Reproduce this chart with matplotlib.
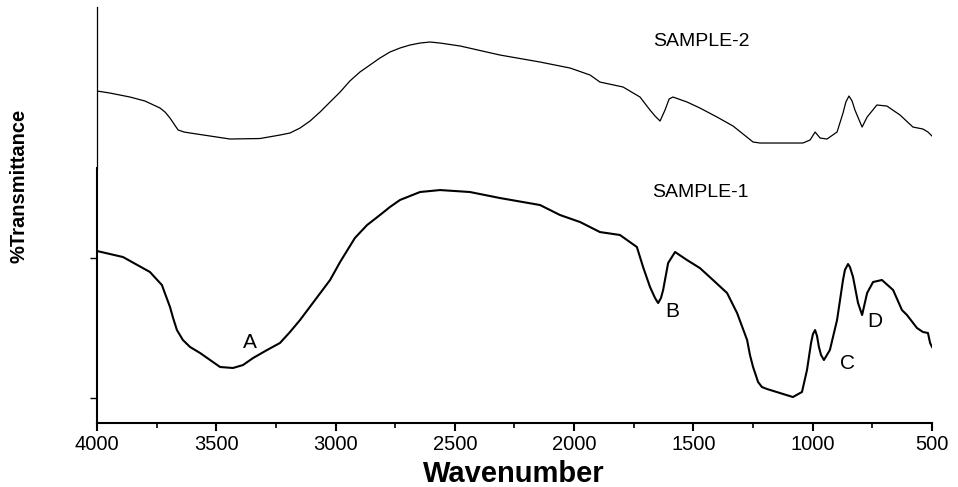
import matplotlib
matplotlib.use("Agg")
import matplotlib.pyplot as plt
from matplotlib.ticker import MultipleLocator

plt.rcParams['font.family'] = ['Liberation Sans', 'DejaVu Sans']

# FTIR spectrum of sample 2 (upper trace)
wn_s2 = [4000, 3946, 3862, 3799, 3736, 3715, 3694, 3677, 3660, 3635, 3610, 3526,
         3443, 3317, 3233, 3191, 3149, 3107, 3065, 3023, 2981, 2940, 2898, 2856,
         2814, 2772, 2730, 2688, 2646, 2604, 2562, 2478, 2311, 2143, 2017, 1933,
         1892, 1795, 1724, 1682, 1661, 1640, 1619, 1602, 1586, 1527, 1473, 1401,
         1334, 1250, 1221, 1041, 1011, 990, 969, 940, 898, 873, 861, 848, 835,
         823, 793, 772, 731, 689, 634, 580, 538, 517, 500]
t_s2 = [63.86, 63.57, 63.0, 62.43, 61.43, 60.86, 60.0, 59.14, 58.29, 58.0, 57.86, 57.43,
        57.0, 57.07, 57.57, 57.86, 58.57, 59.57, 60.86, 62.29, 63.71, 65.29, 66.57, 67.57,
        68.57, 69.43, 70.0, 70.43, 70.71, 70.86, 70.71, 70.29, 69.0, 68.0, 67.14, 66.14,
        65.14, 64.43, 63.0, 61.14, 60.29, 59.57, 61.14, 62.71, 63.0, 62.29, 61.43, 60.14,
        58.86, 56.57, 56.43, 56.43, 56.86, 58.0, 57.14, 57.0, 58.0, 60.71, 62.29, 63.14, 62.43,
        61.14, 58.71, 60.14, 61.86, 61.71, 60.43, 58.71, 58.43, 58.0, 57.43]

# FTIR spectrum of sample 1 (lower trace)
wn_s1 = [4000, 3891, 3778, 3728, 3694, 3681, 3665, 3640, 3610, 3568, 3526, 3484,
         3430, 3388, 3346, 3287, 3233, 3191, 3149, 3086, 3023, 2981, 2919, 2868,
         2814, 2772, 2730, 2688, 2646, 2604, 2562, 2437, 2311, 2143, 2059, 1975,
         1892, 1808, 1737, 1711, 1682, 1661, 1648, 1636, 1627, 1606, 1577, 1527,
         1473, 1418, 1359, 1317, 1275, 1263, 1250, 1229, 1213, 1192, 1137, 1083,
         1045, 1024, 1007, 999, 990, 982, 974, 965, 953, 928, 898, 873, 865, 852,
         844, 831, 810, 793, 772, 747, 710, 663, 626, 605, 563, 538, 517, 508, 500]
t_s1 = [41.0, 40.14, 38.0, 36.14, 33.0, 31.43, 29.71, 28.29, 27.29, 26.43, 25.43, 24.43,
        24.29, 24.71, 25.71, 26.86, 27.86, 29.43, 31.14, 34.0, 36.86, 39.43, 42.86, 44.71,
        46.14, 47.29, 48.29, 48.86, 49.43, 49.57, 49.71, 49.43, 48.57, 47.57, 46.14, 45.14,
        43.71, 43.29, 41.57, 38.71, 35.86, 34.29, 33.57, 34.29, 35.43, 39.29, 40.86, 39.71,
        38.57, 36.86, 35.0, 32.14, 28.29, 26.14, 24.43, 22.29, 21.57, 21.29, 20.71, 20.14,
        20.86, 24.0, 27.86, 29.14, 29.71, 28.86, 27.29, 26.14, 25.43, 26.86, 31.14, 36.86,
        38.29, 39.14, 38.71, 37.29, 33.57, 31.86, 35.0, 36.57, 36.86, 35.43, 32.57, 31.86,
        30.0, 29.43, 29.29, 27.86, 27.29]

# band labels: (text, wavenumber, transmittance)
bands = [("A", 3359, 28.0), ("B", 1590, 32.29), ("C", 856, 25.0), ("D", 739, 30.86)]
sample_labels = [("SAMPLE-2", 1669, 70.86), ("SAMPLE-1", 1674, 49.43)]

x_ticks = [4000, 3500, 3000, 2500, 2000, 1500, 1000, 500]
y_ticks = [20, 40]

fig = plt.figure(figsize=(9.58, 4.87), dpi=100)
ax_lo = fig.add_axes([0.10125, 0.13142, 0.87161, 0.52361])
ax_hi = fig.add_axes([0.10125, 0.65503, 0.87161, 0.33060], sharex=ax_lo)

ax_lo.plot(wn_s1, t_s1, color='black', lw=1.5)
ax_hi.plot(wn_s2, t_s2, color='black', lw=0.9)

ax_lo.set_xlim(4000, 500)
ax_lo.set_ylim(16.43, 52.86)
ax_hi.set_ylim(52.86, 75.86)

# lower panel frame
for side in ('top', 'right'):
    ax_lo.spines[side].set_visible(False)
for side in ('left', 'bottom'):
    ax_lo.spines[side].set_linewidth(1.5)
ax_lo.set_xticks(x_ticks)
ax_lo.set_xticklabels([str(v) for v in x_ticks])
ax_lo.xaxis.set_minor_locator(MultipleLocator(250))
ax_lo.tick_params(axis='x', which='major', direction='out', length=6, width=1.5,
                  labelsize=14.5, pad=3)
ax_lo.tick_params(axis='x', which='minor', direction='out', length=3.5, width=1.2)
ax_lo.set_yticks(y_ticks)
ax_lo.tick_params(axis='y', which='major', direction='out', length=5, width=1.0,
                  labelleft=False)

# upper panel frame: left line only
for side in ('top', 'right', 'bottom'):
    ax_hi.spines[side].set_visible(False)
ax_hi.spines['left'].set_linewidth(0.9)
ax_hi.tick_params(axis='both', which='both', length=0, labelbottom=False, labelleft=False)
ax_hi.set_yticks([])

for txt, x, y in bands:
    ax_lo.text(x, y, txt, fontsize=15, ha='center', va='center')
ax_hi.text(sample_labels[0][1], sample_labels[0][2], sample_labels[0][0],
           fontsize=14, ha='left', va='center')
ax_lo.text(sample_labels[1][1], sample_labels[1][2], sample_labels[1][0],
           fontsize=14, ha='left', va='center')

fig.text(0.536, 0.027, "Wavenumber", fontsize=21, fontweight='bold',
         ha='center', va='center')
fig.text(0.020, 0.619, "%Transmittance", fontsize=14.5, fontweight='bold',
         rotation=90, ha='center', va='center')

fig.savefig("out.png", dpi=100)
